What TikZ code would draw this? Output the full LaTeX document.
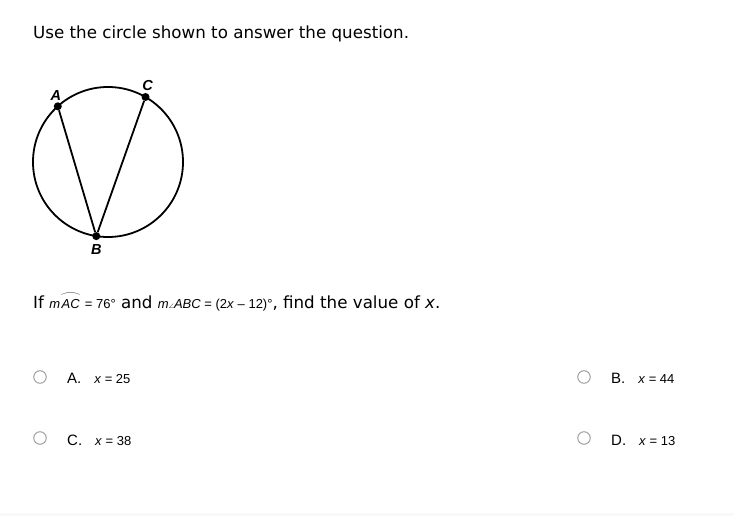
\documentclass[tikz,border=0pt]{standalone}
\usepackage{amsmath}
\usepackage{amssymb}
\usepackage{fontspec}
\setmainfont{DejaVu Sans}
\newfontfamily\arialfont{Liberation Sans}
\usetikzlibrary{positioning}

\newcommand\smallq{\arialfont\fontsize{13}{15}\selectfont}
\newcommand\arcover[1]{\ensuremath{\overset{\scalebox{1.8}[0.8]{$\frown$}}{\text{\itshape #1}}}}

\begin{document}
\begin{tikzpicture}[x=1pt,y=-1pt,
  dot/.style={circle,fill,inner sep=0pt,minimum size=8pt},
  ptlabel/.style={font=\arialfont\bfseries\itshape\fontsize{14.5}{15}\selectfont,inner sep=0pt},
  radio/.style={circle,draw=gray!75,line width=1pt,minimum size=12.5pt,inner sep=0pt},
  optlab/.style={font=\arialfont\fontsize{15}{16}\selectfont,inner sep=0pt,anchor=base west},
  ans/.style={font=\smallq,inner sep=0pt},
  txt/.style={font=\fontsize{16.7}{19}\selectfont,inner sep=0pt,anchor=base west}]
\useasboundingbox (0,0) rectangle (734,516);
\fill[gray!5] (0,513) rectangle (734,516);

\node[txt] (title) at (33,39) {Use the circle shown to answer the question.};

% circle with inscribed angle
\coordinate (O) at (108,162);
\draw[line width=1.8pt] (O) circle (75);
\node[dot] (A) at (57.8,106.3) {};
\node[dot] (C) at (145.5,97) {};
\node[dot] (B) at (96.3,236.1) {};
\draw[line width=1.8pt] (A) -- (B) -- (C);
\node[ptlabel] (lA) [above=1.5pt of A,xshift=-2pt] {A};
\node[ptlabel] (lC) [above=2pt of C,xshift=2pt] {C};
\node[ptlabel] (lB) [below=4pt of B] {B};

% question
\node[txt] (quest) at (33,308) {If {\smallq\textit{m}\arcover{AC} = 76°} and {\smallq\textit{m}$\scriptscriptstyle\angle$\textit{ABC} = (2\textit{x} – 12)°}, find the value of \textit{x}.};

% answers
\node[radio] (rA) at (40,377) {};
\node[optlab] (oA) at (67,383) {A.};
\node[ans] (aA) [right=12.5pt of oA.base east,anchor=base west] {\textit{x} = 25};
\node[radio] (rB) at (584,377) {};
\node[optlab] (oB) at (611,383) {B.};
\node[ans] (aB) [right=12.5pt of oB.base east,anchor=base west] {\textit{x} = 44};
\node[radio] (rC) at (40,438) {};
\node[optlab] (oC) at (67,445) {C.};
\node[ans] (aC) [right=12.5pt of oC.base east,anchor=base west] {\textit{x} = 38};
\node[radio] (rD) at (584,438) {};
\node[optlab] (oD) at (611,445) {D.};
\node[ans] (aD) [right=12.5pt of oD.base east,anchor=base west] {\textit{x} = 13};
\end{tikzpicture}
\end{document}
